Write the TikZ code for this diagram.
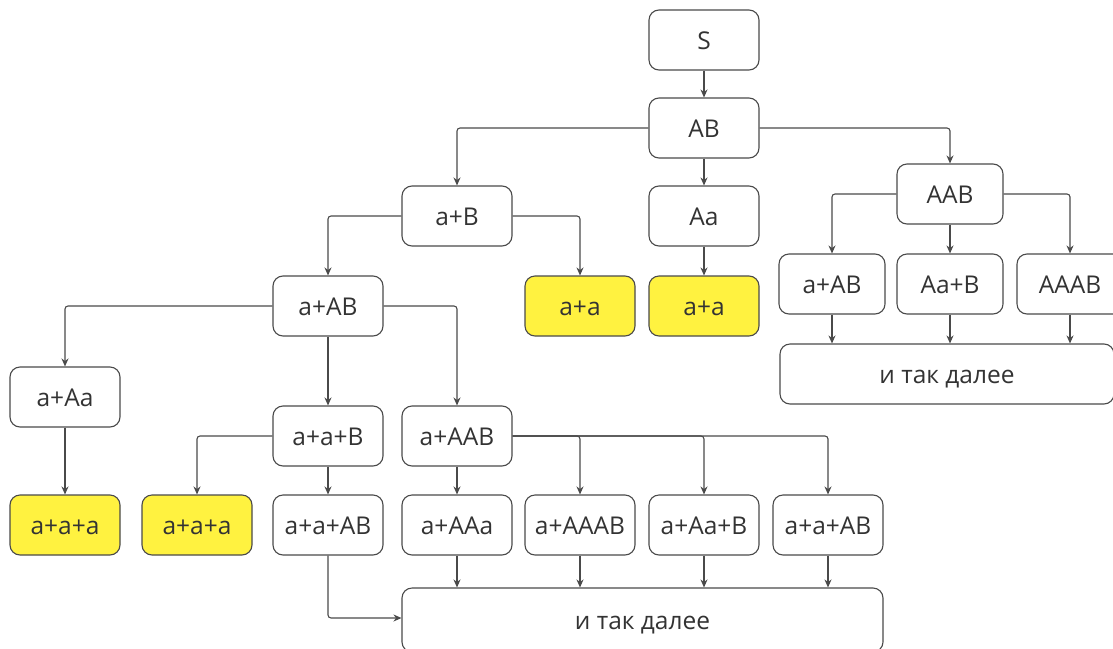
\documentclass[tikz,border=0pt]{standalone}
\usepackage{fontspec}
\setmainfont{Open Sans}
\usetikzlibrary{arrows.meta}
\definecolor{ln}{HTML}{4A4A4A}
\definecolor{tx}{HTML}{333333}
\definecolor{yel}{HTML}{FFF240}
\tikzset{
  box/.style={draw=ln, line width=1.1pt, rounded corners=10pt, minimum width=110pt, minimum height=60pt, inner sep=0pt, text=tx, font=\fontsize{24.5}{28}\selectfont, fill=white, text height=19pt, text depth=0pt},
  nbox/.style={box, minimum width=106pt},
  goal/.style={box, fill=yel},
  conn/.style={draw=ln, line width=1.1pt, rounded corners=3pt, -{Stealth[length=8pt,width=7pt]}}
}
\begin{document}
\begin{tikzpicture}[x=1pt,y=-1pt]
\useasboundingbox (0,0) rectangle (1113,648);
\fill[white] (0,0) rectangle (1113,648);
% nodes
\node[box] (S) at (704,40) {S};
\node[box] (AB) at (704,128) {AB};
\node[box] (aB) at (457,216) {a+B};
\node[box] (Aa) at (704,216) {Aa};
\node[nbox] (AAB) at (950,194) {AAB};
\node[box] (aAB) at (328,306) {a+AB};
\node[goal] (aa1) at (580,306) {a+a};
\node[goal] (aa2) at (704,306) {a+a};
\node[nbox] (aAB2) at (832,284) {a+AB};
\node[nbox] (AaB) at (950,284) {Aa+B};
\node[nbox] (AAAB) at (1070,284) {AAAB};
\node[box, minimum width=334pt] (etc1) at (947,374) {и так далее};
\node[box] (aAa) at (65,397) {a+Aa};
\node[box] (aaB) at (328,436) {a+a+B};
\node[box] (aAAB) at (457,436) {a+AAB};
\node[goal] (aaa1) at (65,525) {a+a+a};
\node[goal] (aaa2) at (197,525) {a+a+a};
\node[box] (aaAB) at (328,525) {a+a+AB};
\node[box] (aAAa) at (457,525) {a+AAa};
\node[box] (aAAAB) at (580,525) {a+AAAB};
\node[box] (aAaB) at (704,525) {a+Aa+B};
\node[box] (aaAB2) at (828,525) {a+a+AB};
\node[box, minimum width=481pt, minimum height=64pt] (etc2) at (642.5,620) {и так далее};
% connectors
\draw[conn] (S) -- (AB);
\draw[conn] (AB.west) -| (aB.north);
\draw[conn] (AB) -- (Aa);
\draw[conn] (AB.east) -| (AAB.north);
\draw[conn] (aB.west) -| (aAB.north);
\draw[conn] (aB.east) -| (aa1.north);
\draw[conn] (Aa) -- (aa2);
\draw[conn] (AAB.west) -| (aAB2.north);
\draw[conn] (AAB) -- (AaB);
\draw[conn] (AAB.east) -| (AAAB.north);
\draw[conn] (aAB2.south) -- (aAB2.south |- etc1.north);
\draw[conn] (AaB.south) -- (AaB.south |- etc1.north);
\draw[conn] (AAAB.south) -- (AAAB.south |- etc1.north);
\draw[conn] (aAB.west) -| (aAa.north);
\draw[conn] (aAB) -- (aaB);
\draw[conn] (aAB.east) -| (aAAB.north);
\draw[conn] (aAa) -- (aaa1);
\draw[conn] (aaB.west) -| (aaa2.north);
\draw[conn] (aaB) -- (aaAB);
\draw[conn] (aAAB) -- (aAAa);
\draw[conn] (aAAB.east) -| (aAAAB.north);
\draw[conn] (aAAB.east) -| (aAaB.north);
\draw[conn] (aAAB.east) -| (aaAB2.north);
\draw[conn] (aaAB.south) |- (etc2.west |- 0,618);
\draw[conn] (aAAa.south) -- (aAAa.south |- etc2.north);
\draw[conn] (aAAAB.south) -- (aAAAB.south |- etc2.north);
\draw[conn] (aAaB.south) -- (aAaB.south |- etc2.north);
\draw[conn] (aaAB2.south) -- (aaAB2.south |- etc2.north);
\end{tikzpicture}
\end{document}
